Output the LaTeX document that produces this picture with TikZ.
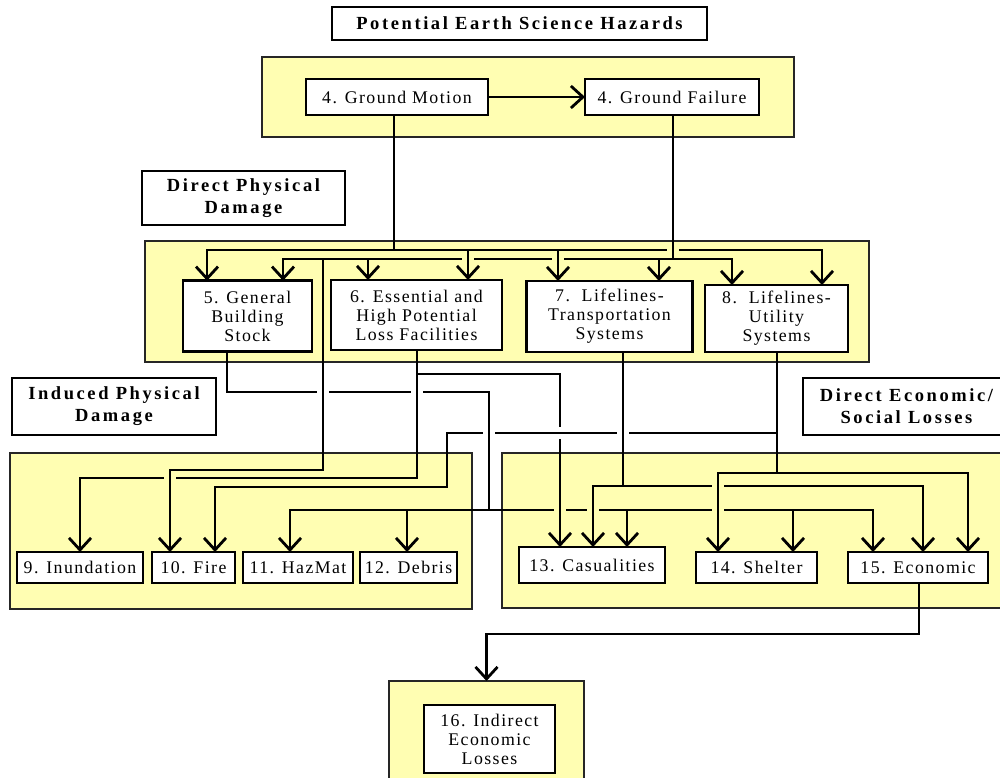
\documentclass[tikz,border=0pt]{standalone}
\usepackage{fontspec}
\setmainfont{Liberation Serif}
\newfontfamily\boxfont[LetterSpace=8]{Liberation Serif}
\newfontfamily\labfont[LetterSpace=14]{Liberation Serif}
\usetikzlibrary{arrows.meta}
\definecolor{hz}{RGB}{255,254,178}
\newcommand\hgapat[3]{\fill[#3] (#1-6,#2-2.6) rectangle (#1+6,#2+2.6); \draw[conn] (#1,#2-4) -- (#1,#2+4);}
\newcommand\vgapat[3]{\fill[#3] (#1-2.6,#2-6) rectangle (#1+2.6,#2+6); \draw[conn] (#1-4,#2) -- (#1+4,#2);}
\begin{document}
\begin{tikzpicture}[x=1pt,y=-1pt,
  ybox/.style={draw=black!85, fill=hz, line width=1.4pt, inner sep=0pt, outer sep=0pt},
  wbox/.style={draw=black, fill=white, line width=2.7pt, inner sep=0pt, outer sep=0pt, align=center,
     font=\boxfont\fontsize{17.8}{19}\selectfont},
  lbox/.style={draw=black, fill=white, line width=2.4pt, inner sep=0pt, outer sep=0pt, align=center,
     font=\labfont\bfseries\fontsize{18.5}{22}\selectfont},
  conn/.style={draw=black, line width=2.8pt},
  arr/.style={conn, -{Straight Barb[length=12pt,width=22pt]}}]
\useasboundingbox (0,0) rectangle (1000,778);
\fill[white] (0,0) rectangle (1000,778);
% yellow groups
\node[ybox, minimum width=532, minimum height=80] (y1) at (528,97) {};
\node[ybox, minimum width=724, minimum height=121] (y2) at (507,301.5) {};
\node[ybox, minimum width=462, minimum height=156] (y3) at (241,531) {};
\node[ybox, minimum width=508, minimum height=155] (y4) at (756,530.5) {};
\node[ybox, minimum width=195, minimum height=110] (y5) at (486.5,736) {};
% labels
\node[lbox, minimum width=375, minimum height=33] (title) at (519.5,23.5) {Potential Earth Science Hazards};
\node[lbox, minimum width=203, minimum height=54] (dpd) at (243.5,198) {Direct Physical\\Damage};
\node[lbox, minimum width=204, minimum height=57] (ipd) at (114,406.5) {Induced Physical\\Damage};
\node[lbox, minimum width=207, minimum height=57] (desl) at (906.5,406.5) {Direct Economic/\\Social Losses};
% boxes
\node[wbox, minimum width=182, minimum height=36] (gm) at (397,97) {4. Ground Motion};
\node[wbox, minimum width=174, minimum height=36] (gf) at (672,97) {4. Ground Failure};
\node[wbox, minimum width=129, minimum height=71] (b5) at (247.5,316.2) {5. General\\Building\\Stock};
\node[wbox, minimum width=171, minimum height=70] (b6) at (416.5,315) {6. Essential and\\High Potential\\Loss Facilities};
\node[wbox, minimum width=166, minimum height=71] (b7) at (609.5,316.5) {7.\ \ Lifelines-\\Transportation\\Systems};
\node[wbox, minimum width=143, minimum height=67] (b8) at (776.5,318.5) {8.\ \ Lifelines-\\Utility\\Systems};
\node[wbox, minimum width=126, minimum height=31] (b9) at (80,567.5) {9. Inundation};
\node[wbox, minimum width=83, minimum height=31] (b10) at (193.5,567.5) {10. Fire};
\node[wbox, minimum width=110, minimum height=31] (b11) at (298,567.5) {11. HazMat};
\node[wbox, minimum width=97, minimum height=31] (b12) at (408.5,567.5) {12. Debris};
\node[wbox, minimum width=146, minimum height=36] (b13) at (592,565) {13. Casualities};
\node[wbox, minimum width=121, minimum height=31] (b14) at (756.5,567.5) {14. Shelter};
\node[wbox, minimum width=140, minimum height=31] (b15) at (918,567.5) {15. Economic};
\node[wbox, minimum width=131, minimum height=68] (b16) at (489.5,739) {16. Indirect\\Economic\\Losses};
% ground motion -> ground failure
\draw[arr] (gm.east) -- (gf.west);
% ground motion bus (line A)
\draw[conn] ([xshift=-3pt]gm.south) -- (394,250);
\draw[arr] (394,250) -| ([xshift=-40.5pt]b5.north);
\draw[arr] (394,250) -| ([xshift=45.5pt]b8.north);
\draw[arr] (468,250) -- ([xshift=51.5pt]b6.north);
\draw[arr] (558,250) -- ([xshift=-51.5pt]b7.north);
% ground failure bus (line B)
\draw[conn] ([xshift=1pt]gf.south) -- (673,259);
\draw[arr] (673,259) -| ([xshift=35.5pt]b5.north);
\draw[arr] (673,259) -| ([xshift=-44.5pt]b8.north);
\draw[arr] (368,259) -- ([xshift=-48.5pt]b6.north);
\draw[arr] (659,259) -- ([xshift=49.5pt]b7.north);
\draw[arr] (323,259) -- (323,470) -| ([xshift=-23.5pt]b10.north);
% general building stock
\draw[conn] ([xshift=-20.5pt]b5.south) |- (489,392) -- (489,510);
\draw[arr] (489,510) -| ([xshift=-8pt]b11.north);
\draw[arr] (489,510) -| ([xshift=-45pt]b15.north);
\draw[arr] (407,510) -- ([xshift=-1.5pt]b12.north);
\draw[arr] (627,510) -- ([xshift=35pt]b13.north);
\draw[arr] (793,510) -- ([xshift=36.5pt]b14.north);
% essential facilities
\draw[arr] ([xshift=0.5pt]b6.south) -- (417,478) -| (b9.north);
\draw[arr] (417,374) -| ([xshift=-32pt]b13.north);
% transportation
\draw[conn] ([xshift=13.5pt]b7.south) -- (623,486);
\draw[arr] (623,486) -| ([xshift=1pt]b13.north);
\draw[arr] (623,486) -| ([xshift=5pt]b15.north);
% utility
\draw[arr] ([xshift=0.5pt]b8.south) |- (447,433) -- (447,487) -| ([xshift=21.5pt]b10.north);
\draw[conn] (777,433) -- (777,473);
\draw[arr] (777,473) -| ([xshift=-38.5pt]b14.north);
\draw[arr] (777,473) -| ([xshift=50pt]b15.north);
% economic -> indirect
\draw[arr] ([xshift=1pt]b15.south) |- (486.5,634) -- (y5.north);
% line hops
\hgapat{673}{250}{hz}
\hgapat{468}{259}{hz}
\hgapat{558}{259}{hz}
\hgapat{323}{392}{white}
\hgapat{417}{392}{white}
\hgapat{170}{478}{hz}
\vgapat{560}{433}{white}
\hgapat{489}{433}{white}
\hgapat{623}{433}{white}
\hgapat{718}{486}{hz}
\hgapat{560}{510}{hz}
\hgapat{593}{510}{hz}
\hgapat{718}{510}{hz}
\end{tikzpicture}
\end{document}
